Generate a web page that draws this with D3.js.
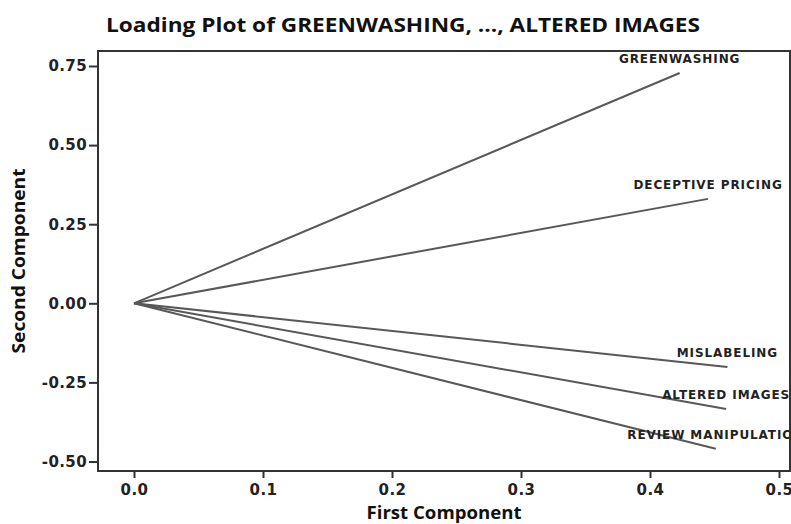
<!DOCTYPE html>
<html><head><meta charset="utf-8">
<script src="https://cdn.jsdelivr.net/npm/d3@7"></script>
<style>body{margin:0;background:#fff}</style>
</head><body>
<svg id="c" width="791" height="524"></svg>
<script>
const variables = ["GREENWASHING","DECEPTIVE PRICING","MISLABELING","ALTERED IMAGES","REVIEW MANIPULATION"];
const pc1 = [0.423, 0.445, 0.460, 0.459, 0.451];
const pc2 = [0.728, 0.330, -0.201, -0.334, -0.460];
const xTicks = [0.0, 0.1, 0.2, 0.3, 0.4, 0.5];
const yTicks = [0.75, 0.50, 0.25, 0.00, -0.25, -0.50];

const svg = d3.select("#c");
const L = 98, R = 790, T = 51, B = 471;
const x = d3.scaleLinear().domain([0, 0.4]).range([134, 650]);
const y = d3.scaleLinear().domain([0.75, -0.50]).range([66, 461.5]);

svg.append("defs").append("clipPath").attr("id","plotclip")
  .append("rect").attr("x",L).attr("y",T).attr("width",R-L).attr("height",B-T);

// title
svg.append("text").attr("x",106).attr("y",32)
  .attr("textLength",594).attr("lengthAdjust","spacingAndGlyphs")
  .style("font-family","'Open Sans'").style("font-weight","bold").style("font-size","20px")
  .attr("fill","#111").text("Loading Plot of GREENWASHING, ..., ALTERED IMAGES");

// lines
const g = svg.append("g").attr("clip-path","url(#plotclip)");
variables.forEach((v,i)=>{
  g.append("line").attr("x1",x(0)).attr("y1",y(0)).attr("x2",x(pc1[i])).attr("y2",y(pc2[i]))
    .attr("stroke","#585858").attr("stroke-width",2);
});
variables.forEach((v,i)=>{
  g.append("text").attr("x",x(pc1[i])).attr("y",y(pc2[i])-10)
    .attr("text-anchor","middle")
    .style("font-family","'DejaVu Sans'").style("font-size","12px").style("letter-spacing","0.9px")
    .style("font-weight","600")
    .attr("fill","#222").text(v);
});

// frame
svg.append("rect").attr("x",L).attr("y",T).attr("width",R-L).attr("height",B-T)
  .attr("fill","none").attr("stroke","#333").attr("stroke-width",2);

const fmt2 = d => d3.format(".2f")(d).replace("\u2212","-");
const fmt1 = d => d3.format(".1f")(d).replace("\u2212","-");

// y axis
const ya = d3.axisLeft(y).tickValues(yTicks).tickFormat(fmt2).tickSize(9).tickPadding(2);
const yg = svg.append("g").attr("transform",`translate(${L},0)`).call(ya);
yg.select(".domain").remove();
yg.selectAll(".tick line").attr("stroke","#333").attr("stroke-width",2);
yg.selectAll(".tick text").style("font-family","'DejaVu Sans'").style("font-weight","bold")
  .style("font-size","15px").style("letter-spacing","0.4px").attr("fill","#222");

// x axis
const xa = d3.axisBottom(x).tickValues(xTicks).tickFormat(fmt1).tickSize(7).tickPadding(6);
const xg = svg.append("g").attr("transform",`translate(0,${B})`).call(xa);
xg.select(".domain").remove();
xg.selectAll(".tick line").attr("stroke","#333").attr("stroke-width",2);
xg.selectAll(".tick text").style("font-family","'DejaVu Sans'").style("font-weight","bold")
  .style("font-size","15px").style("letter-spacing","0.4px").attr("fill","#222");

// axis titles
svg.append("text").attr("x",(L+R)/2).attr("y",519).attr("text-anchor","middle")
  .attr("textLength",155).attr("lengthAdjust","spacingAndGlyphs")
  .style("font-family","'Open Sans'").style("font-weight","bold").style("font-size","17px")
  .attr("fill","#111").text("First Component");
svg.append("text").attr("transform",`translate(25,${(T+B)/2}) rotate(-90)`).attr("text-anchor","middle")
  .attr("textLength",185).attr("lengthAdjust","spacingAndGlyphs")
  .style("font-family","'Open Sans'").style("font-weight","bold").style("font-size","17px")
  .attr("fill","#111").text("Second Component");
</script>
</body></html>
